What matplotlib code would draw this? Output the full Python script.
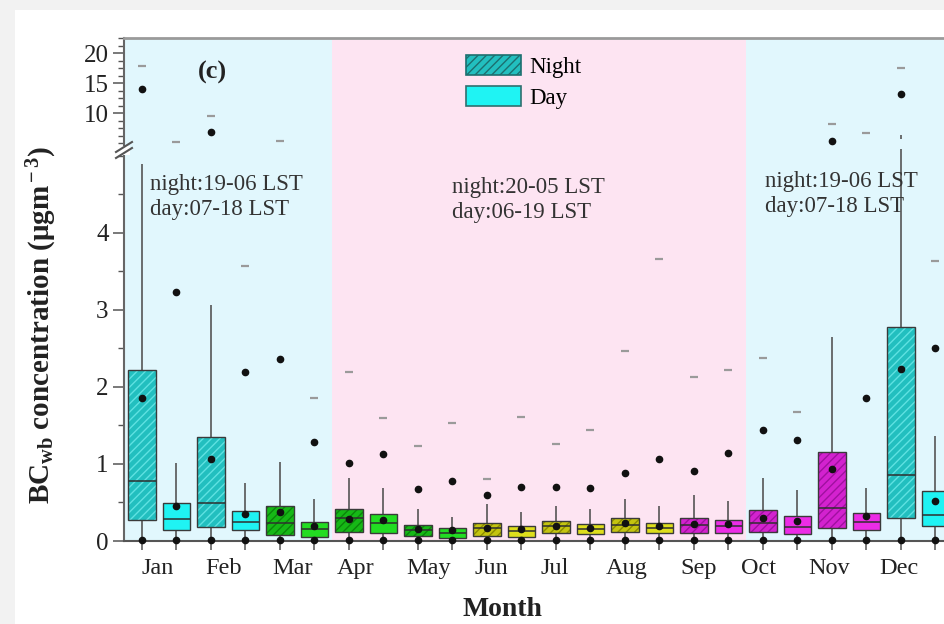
import numpy as np
import matplotlib
matplotlib.use("Agg")
import matplotlib.pyplot as plt
from matplotlib.patches import Patch, Rectangle
from matplotlib.lines import Line2D
from matplotlib.ticker import AutoMinorLocator, FixedLocator

plt.rcParams['font.family'] = ['Liberation Serif', 'DejaVu Serif']
plt.rcParams['mathtext.fontset'] = 'custom'
plt.rcParams['mathtext.rm'] = 'Liberation Serif:bold'
plt.rcParams['mathtext.it'] = 'Liberation Serif:italic:bold'
plt.rcParams['hatch.linewidth'] = 1.0

# month labels, one night box and one day box per month
months = ["Jan", "Feb", "Mar", "Apr", "May", "Jun",
          "Jul", "Aug", "Sep", "Oct", "Nov", "Dec"]
month_label_pos = [1.45, 3.35, 5.35, 7.2, 9.32, 11.14,
                   12.97, 15.06, 17.12, 18.86, 20.91, 22.94]
season = ["DJF", "DJF", "MAM", "MAM", "MAM", "JJA",
          "JJA", "JJA", "SON", "SON", "SON", "DJF"]

# order: Jan night, Jan day, Feb night, Feb day, ...
q1 = [0.27, 0.14, 0.18, 0.14, 0.08, 0.05, 0.12, 0.10, 0.07, 0.04, 0.07, 0.05,
      0.10, 0.09, 0.12, 0.11, 0.10, 0.11, 0.12, 0.09, 0.17, 0.14, 0.30, 0.19]
median = [0.78, 0.29, 0.49, 0.25, 0.23, 0.15, 0.30, 0.23, 0.14, 0.11, 0.17, 0.13,
          0.19, 0.15, 0.21, 0.17, 0.21, 0.19, 0.23, 0.18, 0.43, 0.25, 0.86, 0.34]
q3 = [2.22, 0.49, 1.35, 0.39, 0.46, 0.25, 0.41, 0.35, 0.21, 0.17, 0.24, 0.20,
      0.26, 0.22, 0.30, 0.24, 0.30, 0.27, 0.40, 0.32, 1.16, 0.36, 2.78, 0.65]
mean = [1.86, 0.45, 1.06, 0.35, 0.38, 0.19, 0.29, 0.27, 0.15, 0.14, 0.17, 0.15,
        0.19, 0.17, 0.23, 0.19, 0.22, 0.22, 0.30, 0.26, 0.93, 0.32, 2.23, 0.52]
whisk_hi = [4.90, 1.01, 3.06, 0.75, 1.03, 0.54, 0.82, 0.69, 0.41, 0.31, 0.48, 0.38,
            0.45, 0.41, 0.54, 0.45, 0.60, 0.52, 0.82, 0.66, 2.65, 0.69, 6.30, 1.36]
whisk_lo = [0.0, 0.0, 0.0, 0.0, 0.0, 0.0, 0.0, 0.0, 0.0, 0.0, 0.0, 0.0,
            0.0, 0.0, 0.0, 0.0, 0.0, 0.0, 0.0, 0.0, 0.0, 0.0, 0.0, 0.0]
p99 = [14.0, 3.23, 6.8, 2.19, 2.36, 1.29, 1.01, 1.13, 0.67, 0.78, 0.60, 0.70,
       0.70, 0.69, 0.88, 1.07, 0.91, 1.14, 1.44, 1.31, 5.3, 1.86, 13.2, 2.50]
p01 = [0.01, 0.01, 0.01, 0.01, 0.01, 0.01, 0.01, 0.01, 0.01, 0.01, 0.01, 0.01,
       0.01, 0.01, 0.01, 0.01, 0.01, 0.01, 0.01, 0.01, 0.01, 0.01, 0.01, 0.01]
vmax = [17.8, 5.2, 9.5, 3.57, 5.3, 1.86, 2.20, 1.60, 1.24, 1.53, 0.80, 1.61,
        1.26, 1.44, 2.47, 3.66, 2.13, 2.22, 2.38, 1.67, 8.2, 6.7, 17.5, 3.63]

night_fill = {"DJF": "#22bfbf", "MAM": "#16b816", "JJA": "#c4c410", "SON": "#d322cf"}
night_hatch = {"DJF": "#5fe2e2", "MAM": "#0b850b", "JJA": "#8c8c00", "SON": "#a010a0"}
day_fill = {"DJF": "#1ff3f3", "MAM": "#22dd22", "JJA": "#dede1c", "SON": "#ec2ce6"}

pos = np.arange(1, 25)
npos = pos[0::2]
dpos = pos[1::2]
q1 = np.array(q1); q3 = np.array(q3)
whisk_hi = np.array(whisk_hi)
p99 = np.array(p99); vmax = np.array(vmax); mean = np.array(mean)

low_top = 5.09   # value where the lower panel ends (axis break)

fig = plt.figure(figsize=(9.45, 6.24), dpi=100)
fig.patch.set_facecolor("#f2f2f2")
fig.add_artist(Rectangle((15/945, 0), 1, 1 - 10/624, transform=fig.transFigure,
                         facecolor="white", edgecolor="none", zorder=-10))

W, H = 945., 624.
left = 124/W
width = (952 - 124)/W
ax = fig.add_axes([left, 1 - 541/H, width, (541 - 149)/H])
axt = fig.add_axes([left, 1 - 149/H, width, (149 - 38)/H], sharex=ax)

for a, upper in ((ax, False), (axt, True)):
    a.axvspan(0, 6.5, color="#e1f7fd", zorder=0, lw=0)
    a.axvspan(6.5, 18.5, color="#fde4f2", zorder=0, lw=0)
    a.axvspan(18.5, 26, color="#e1f7fd", zorder=0, lw=0)

    # night boxes (hatched)
    a.bar(npos, q3[0::2] - q1[0::2], bottom=q1[0::2], width=0.8,
          color=[night_fill[s] for s in season], zorder=3, lw=0)
    for x, b, t, s in zip(npos, q1[0::2], q3[0::2], season):
        a.bar([x], [t - b], bottom=[b], width=0.8, fill=False, hatch="////",
              edgecolor=night_hatch[s], lw=0, zorder=3)
    # day boxes
    a.bar(dpos, q3[1::2] - q1[1::2], bottom=q1[1::2], width=0.8,
          color=[day_fill[s] for s in season], zorder=3, lw=0)
    # box outlines
    a.bar(pos, q3 - q1, bottom=q1, width=0.8, fill=False,
          edgecolor="#3a3a3a", lw=1.0, zorder=4)
    a.hlines(median, pos - 0.4, pos + 0.4, color="#2f2f2f", lw=1.1, zorder=4)
    # points, each only in its own panel
    if upper:
        keep = lambda v: np.where(v > low_top, v, np.nan)
    else:
        keep = lambda v: np.where(v <= low_top, v, np.nan)
    a.plot(pos, keep(vmax), ls="none", marker="_", ms=6, mew=1.6, color="#9a9a9a", zorder=5)
    a.plot(pos, keep(p99), ls="none", marker="o", ms=4.5, color="#111111", zorder=5)
    a.plot(pos, keep(mean), ls="none", marker="o", ms=4.5, color="#111111", zorder=6)

# whiskers
ax.vlines(pos, q3, whisk_hi, color="#555555", lw=1.2, zorder=2)
ax.vlines(pos, whisk_lo, q1, color="#555555", lw=1.2, zorder=2)
tall = whisk_hi > low_top
axt.vlines(pos[tall], low_top + 0.6, whisk_hi[tall], color="#555555", lw=1.2, zorder=2)
ax.plot(pos, p01, ls="none", marker="o", ms=4.5, color="#111111", zorder=5, clip_on=False)

ax.set_xlim(1 - 18/34.5, 1 + (952 - 142)/34.5)
ax.set_ylim(0, low_top)
axt.set_ylim(10 - (149 - 113)/6, 10 + (113 - 38)/6)

ax.set_yticks([0, 1, 2, 3, 4])
ax.yaxis.set_minor_locator(AutoMinorLocator(2))
axt.set_yticks([10, 15, 20])
axt.yaxis.set_minor_locator(AutoMinorLocator(4))

ax.xaxis.set_major_locator(FixedLocator(pos))
ax.set_xticklabels([])
ax.tick_params(axis="x", which="both", direction="out", length=6.5, width=1.1,
               color="#555555", top=False)
ax.tick_params(axis="x", which="minor", length=0)
axt.tick_params(axis="x", which="both", bottom=False, top=False, labelbottom=False)

for a in (ax, axt):
    a.tick_params(axis="y", which="major", direction="out", length=8, width=1.1,
                  color="#555555", labelsize=18, labelcolor="#222222", pad=3)
    a.tick_params(axis="y", which="minor", direction="out", length=4, width=1.0,
                  color="#555555")
    a.spines["right"].set_visible(False)
    a.spines["left"].set_color("#666666")
    a.spines["left"].set_linewidth(1.5)

ax.spines["top"].set_visible(False)
ax.spines["bottom"].set_color("#555555")
ax.spines["bottom"].set_linewidth(1.5)
axt.spines["bottom"].set_visible(False)
axt.spines["top"].set_color("#9a9a9a")
axt.spines["top"].set_linewidth(2)

for m, x in zip(months, month_label_pos):
    ax.text(x, -0.07, m, transform=ax.get_xaxis_transform(), ha="center", va="center",
            fontsize=17.5, color="#222222")

# axis break marks
fig.add_artist(Rectangle((118/W, 1 - 155/H), 12/W, 9/H, transform=fig.transFigure,
                         facecolor="white", edgecolor="none", zorder=5))
for dy in (0, 6):
    fig.add_artist(Line2D([116/W, 132/W], [1 - (158 - dy)/H, 1 - (148 - dy)/H],
                          color="#555555", lw=1.5, transform=fig.transFigure, zorder=6))

txt = dict(fontsize=16.5, color="#333333", va="top", ha="left", linespacing=1.25, zorder=7)
ax.text(1.23, 4.76, "night:19-06 LST\nday:07-18 LST", **txt)
ax.text(9.99, 4.72, "night:20-05 LST\nday:06-19 LST", **txt)
ax.text(19.06, 4.8, "night:19-06 LST\nday:07-18 LST", **txt)

axt.text((212 - 124)/828, (149 - 72)/111, "(c)", transform=axt.transAxes,
         ha="center", va="center", fontsize=19, fontweight="bold", color="#222222")

handles = [Patch(facecolor=night_fill["DJF"], edgecolor="#1c6f6f", hatch="////", lw=1.2),
           Patch(facecolor=day_fill["DJF"], edgecolor="#2f6f6f", lw=1.2)]
axt.legend(handles, ["Night", "Day"], loc="upper left",
           bbox_to_anchor=(466/W, 1 - 55/H), bbox_transform=fig.transFigure,
           frameon=False, borderpad=0, borderaxespad=0, handlelength=2.4,
           handleheight=0.95, labelspacing=0.35, handletextpad=0.35,
           prop={"size": 16.5})

fig.text(42/W, 1 - 325/H, r"BC$_{\rm wb}$ concentration (μgm$^{\rm -3}$)",
         rotation=90, ha="center", va="center", fontsize=21, fontweight="bold",
         color="#222222")
fig.text(502/W, 1 - 610/H, "Month", ha="center", va="center", fontsize=20,
         fontweight="bold", color="#222222")

fig.savefig("out.png", dpi=100, facecolor=fig.get_facecolor())
